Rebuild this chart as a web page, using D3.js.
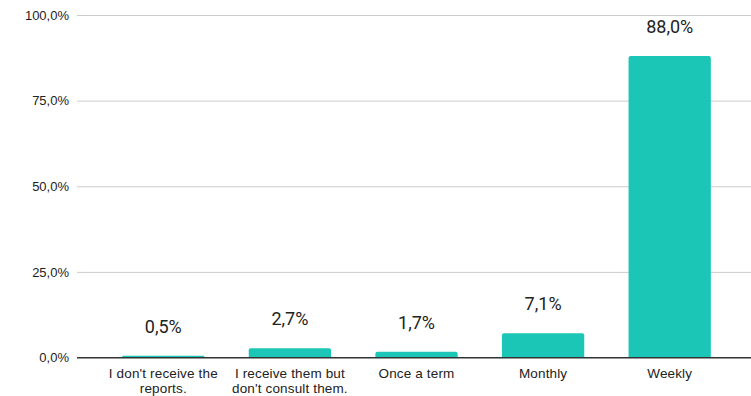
<!DOCTYPE html>
<html>
<head>
<meta charset="utf-8">
<script src="https://cdn.jsdelivr.net/npm/d3@7"></script>
<style>
  html, body { margin: 0; padding: 0; background: #fff; }
  svg { display: block; }
</style>
</head>
<body>
<svg id="chart" width="751" height="396"></svg>
<script>
// Survey answers: how often the reports are consulted (share of respondents, %)
const categories = [
  ["I don't receive the", "reports."],
  ["I receive them but", "don't consult them."],
  ["Once a term"],
  ["Monthly"],
  ["Weekly"]
];
const values = [0.5, 2.7, 1.7, 7.1, 88.0];
const yTicks = [0, 25, 50, 75, 100];

const svg = d3.select("#chart");
const W = 751;
const fmt = v => d3.format(".1f")(v).replace(".", ",") + "%";

const x = d3.scaleBand()
  .domain(d3.range(categories.length))
  .range([100, 733])
  .paddingInner(0.35)
  .paddingOuter(0.175);

const y = d3.scaleLinear().domain([0, 100]).range([357.5, 15]);

// Horizontal gridlines and y tick labels
const yAxis = d3.axisLeft(y)
  .tickValues(yTicks)
  .tickFormat(fmt)
  .tickSize(-(W - 77))
  .tickPadding(8);

const gy = svg.append("g")
  .attr("transform", "translate(77,0)")
  .call(yAxis);
gy.select(".domain").remove();
gy.selectAll(".tick line")
  .attr("stroke", d => d === 0 ? "#333" : "#cccccc")
  .attr("stroke-width", 1);
gy.selectAll(".tick text")
  .attr("fill", "#222")
  .attr("font-family", "'Liberation Sans', Arial, sans-serif")
  .attr("font-size", 13);

// Bars with slightly rounded top corners
const r = 2;
function barPath(i, v) {
  const x0 = x(i), x1 = x(i) + x.bandwidth();
  const y0 = y(0), y1 = y(v);
  const rr = Math.min(r, (y0 - y1) / 2);
  return `M${x0},${y0}V${y1 + rr}Q${x0},${y1} ${x0 + rr},${y1}` +
         `H${x1 - rr}Q${x1},${y1} ${x1},${y1 + rr}V${y0}Z`;
}

svg.append("g")
  .selectAll("path")
  .data(values)
  .join("path")
  .attr("d", (v, i) => barPath(i, v))
  .attr("fill", "#1cc6b7");

// Re-draw baseline on top of bars
svg.append("line")
  .attr("x1", 77).attr("x2", W)
  .attr("y1", y(0)).attr("y2", y(0))
  .attr("stroke", "#333").attr("stroke-width", 1);

// Value labels
svg.append("g")
  .selectAll("text")
  .data(values)
  .join("text")
  .attr("x", (v, i) => x(i) + x.bandwidth() / 2)
  .attr("y", v => y(v) - 23)
  .attr("text-anchor", "middle")
  .attr("font-family", "Roboto, sans-serif")
  .attr("font-size", 18)
  .attr("fill", "#222")
  .text(fmt);

// Category labels (wrapped)
const cl = svg.append("g")
  .selectAll("text")
  .data(categories)
  .join("text")
  .attr("x", (c, i) => x(i) + x.bandwidth() / 2)
  .attr("y", 378)
  .attr("text-anchor", "middle")
  .attr("font-family", "'Liberation Sans', Arial, sans-serif")
  .attr("font-size", 13.5)
  .attr("letter-spacing", 0.15)
  .attr("fill", "#222");
cl.selectAll("tspan")
  .data(c => c)
  .join("tspan")
  .attr("x", function () { return d3.select(this.parentNode).attr("x"); })
  .attr("dy", (d, j) => j === 0 ? 0 : 15)
  .text(d => d);
</script>
</body>
</html>
